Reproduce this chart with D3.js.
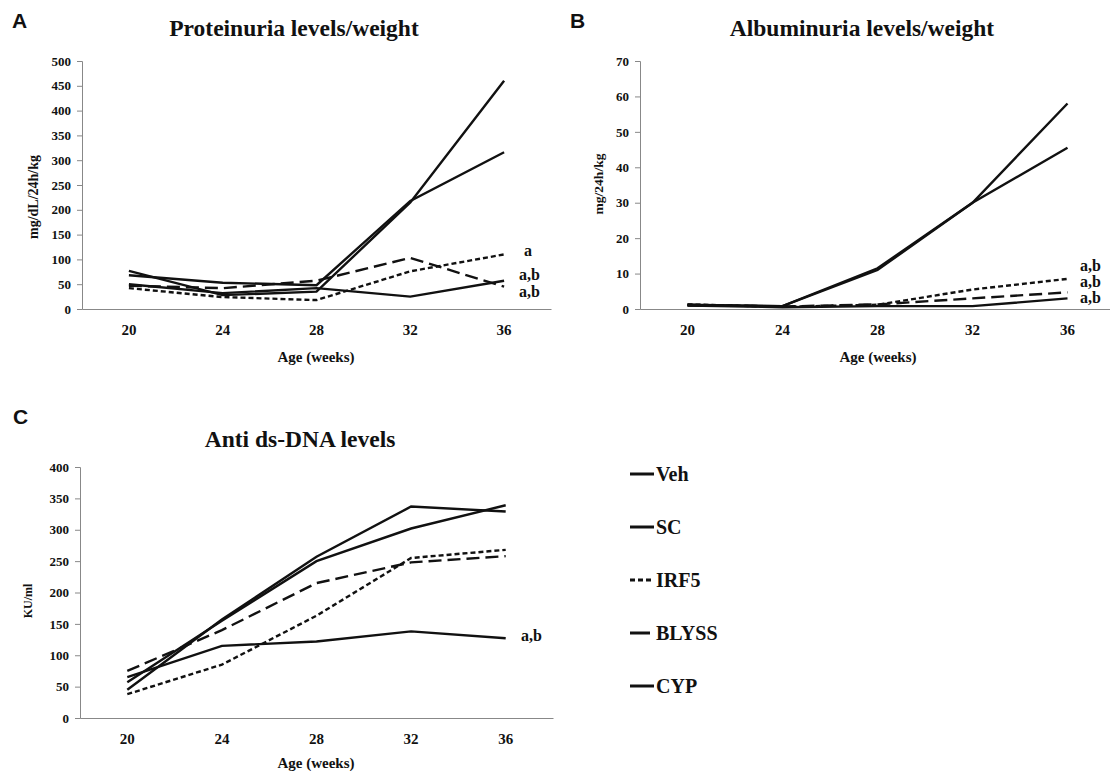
<!DOCTYPE html>
<html><head><meta charset="utf-8">
<script src="https://cdn.jsdelivr.net/npm/d3@7"></script>
<style>
body{margin:0;background:#fff;}
svg{display:block;}
text{font-family:"Liberation Serif","Times New Roman",serif;font-weight:bold;fill:#111;}
</style></head><body>
<svg id="c" width="1110" height="771"></svg>
<script>
const weeks = ["20","24","28","32","36"];
const seriesNames = ["Veh","SC","IRF5","BLYSS","CYP"];
const dashes = {Veh:null, SC:null, IRF5:"5,3", BLYSS:"13,6", CYP:null};

// Panel A: Proteinuria levels/weight (mg/dL/24h/kg)
const protVeh   = [77, 28, 35, 215, 460];
const protSC    = [68, 53, 48, 218, 316];
const protIRF5  = [42, 24, 18, 76, 110];
const protBLYSS = [47, 42, 57, 103, 45];
const protCYP   = [50, 32, 42, 25, 57];
const protTicks = [0,50,100,150,200,250,300,350,400,450,500];

// Panel B: Albuminuria levels/weight (mg/24h/kg)
const albVeh   = [1.2, 0.8, 11.5, 30, 58];
const albSC    = [1.0, 0.8, 11.0, 30, 45.5];
const albIRF5  = [1.3, 0.6, 1.2, 5.5, 8.5];
const albBLYSS = [1.2, 0.7, 1.3, 3.0, 4.7];
const albCYP   = [1.0, 0.5, 0.8, 0.8, 3.0];
const albTicks = [0,10,20,30,40,50,60,70];

// Panel C: Anti ds-DNA levels (KU/ml)
const dnaVeh   = [45, 157, 257, 337, 329];
const dnaSC    = [57, 155, 250, 302, 339];
const dnaIRF5  = [38, 85, 163, 255, 268];
const dnaBLYSS = [75, 140, 215, 248, 258];
const dnaCYP   = [65, 115, 122, 138, 127];
const dnaTicks = [0,50,100,150,200,250,300,350,400];

const svg = d3.select("#c");

function panel(o){
  const g = svg.append("g");
  const x = d3.scaleBand().domain(weeks).range([o.left,o.right]);
  const y = d3.scaleLinear().domain([0,o.max]).range([o.bottom,o.top]);
  const ya = g.append("g").attr("transform",`translate(${o.left},0)`)
    .call(d3.axisLeft(y).tickValues(o.ticks).tickSizeOuter(0).tickSize(5).tickPadding(6));
  ya.select(".domain").attr("stroke","#888");
  ya.selectAll(".tick line").attr("stroke","#888");
  ya.selectAll("text").style("font-size","13px").style("font-family","Liberation Serif").style("font-weight","bold").attr("fill","#111");
  const xa = g.append("g").attr("transform",`translate(0,${o.bottom})`)
    .call(d3.axisBottom(x).tickSize(0).tickPadding(15).tickSizeOuter(0));
  xa.select(".domain").attr("stroke","#888");
  xa.selectAll("text").style("font-size","15px").style("font-family","Liberation Serif").style("font-weight","bold").attr("fill","#111");
  const line = d3.line().x((d,i)=>x(weeks[i])+x.bandwidth()/2).y(d=>y(d));
  o.series.forEach((vals,k)=>{
    const nm = seriesNames[k];
    g.append("path").datum(vals).attr("d",line).attr("fill","none")
      .attr("stroke","#111").attr("stroke-width",2.4)
      .attr("stroke-dasharray",dashes[nm]);
  });
  g.append("text").attr("x",o.titleX).attr("y",o.titleY).attr("text-anchor","middle")
    .style("font-size","23.5px").text(o.title);
  g.append("text").attr("transform",`translate(${o.ylabX},${o.ylabY}) rotate(-90)`)
    .attr("text-anchor","middle").style("font-size",o.ylabSize+"px").text(o.ylab);
  g.append("text").attr("x",o.xlabX).attr("y",o.xlabY).attr("text-anchor","middle")
    .style("font-size","15px").text("Age (weeks)");
  g.append("text").attr("x",o.letterX).attr("y",o.letterY)
    .style("font-size","21px").style("font-family","Liberation Sans").text(o.letter);
  o.notes.forEach(n=>{
    g.append("text").attr("x",n[0]).attr("y",n[1]).style("font-size","16px").text(n[2]);
  });
}

panel({left:82,right:551,top:61,bottom:309,max:500,ticks:protTicks,
  series:[protVeh,protSC,protIRF5,protBLYSS,protCYP],
  title:"Proteinuria levels/weight",titleX:294,titleY:36,
  ylab:"mg/dL/24h/kg",ylabX:38,ylabY:197,ylabSize:14,
  xlabX:316,xlabY:362,letter:"A",letterX:12,letterY:28,
  notes:[[524,256,"a"],[519,280,"a,b"],[519,297,"a,b"]]});

panel({left:640,right:1115,top:61,bottom:309,max:70,ticks:albTicks,
  series:[albVeh,albSC,albIRF5,albBLYSS,albCYP],
  title:"Albuminuria levels/weight",titleX:862,titleY:36,
  ylab:"mg/24h/kg",ylabX:603,ylabY:184,ylabSize:13.5,
  xlabX:878,xlabY:362,letter:"B",letterX:570,letterY:28,
  notes:[[1080,271,"a,b"],[1080,287,"a,b"],[1080,303,"a,b"]]});

panel({left:80,right:553,top:467,bottom:718,max:400,ticks:dnaTicks,
  series:[dnaVeh,dnaSC,dnaIRF5,dnaBLYSS,dnaCYP],
  title:"Anti ds-DNA levels",titleX:300,titleY:447,
  ylab:"KU/ml",ylabX:32,ylabY:601,ylabSize:12,
  xlabX:316,xlabY:768,letter:"C",letterX:13,letterY:424,
  notes:[[521,641,"a,b"]]});

// legend
const legY = [474,527,580,633,686];
seriesNames.forEach((nm,i)=>{
  const lg = svg.append("g");
  lg.append("line").attr("x1",630).attr("x2",nm==="BLYSS"?650:654).attr("y1",legY[i]).attr("y2",legY[i])
    .attr("stroke","#111").attr("stroke-width",3)
    .attr("stroke-dasharray", nm==="IRF5"?"5,3":null);
  lg.append("text").attr("x",656).attr("y",legY[i]+7).style("font-size","20px").text(nm);
});
</script>
</body></html>
